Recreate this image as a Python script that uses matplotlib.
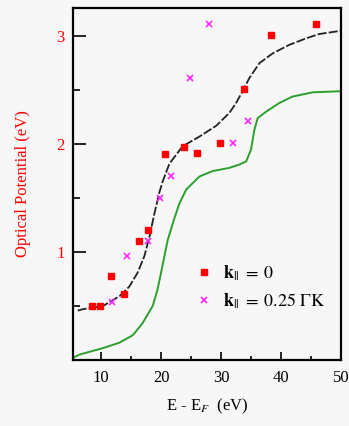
import matplotlib
matplotlib.use("Agg")
import matplotlib.pyplot as plt
from matplotlib.ticker import MultipleLocator

plt.rcParams["font.family"] = "Liberation Serif"
plt.rcParams["mathtext.fontset"] = "stix"

# k|| = 0 data points (red)
k0_x = [8.4, 9.8, 11.7, 13.8, 16.3, 17.8, 20.7, 23.8, 26.0, 29.8, 33.8, 38.4, 45.8]
k0_y = [0.50, 0.50, 0.78, 0.61, 1.10, 1.20, 1.91, 1.97, 1.92, 2.01, 2.51, 3.01, 3.11]

# k|| = 0.25 GK data points (magenta)
k25_x = [11.8, 14.3, 17.9, 19.9, 21.7, 24.9, 28.0, 32.05, 34.5]
k25_y = [0.54, 0.96, 1.10, 1.50, 1.70, 2.61, 3.11, 2.01, 2.21]

# black dashed calculation
calc_x = [6.1, 6.9, 10.3, 13.05, 14.7, 16.1, 17.2, 18.05, 18.9, 19.7, 20.3, 21.4, 23.6,
          26.4, 29.2, 31.4, 32.5, 33.6, 34.7, 36.4, 38.6, 41.4, 44.2, 46.4, 50.0]
calc_y = [0.457, 0.47, 0.50, 0.59, 0.68, 0.81, 0.96, 1.14, 1.36, 1.55, 1.66, 1.82, 1.98,
          2.07, 2.17, 2.29, 2.38, 2.49, 2.61, 2.75, 2.84, 2.92, 2.98, 3.02, 3.05]

# green curve
green_x = [5.3, 6.4, 10.3, 13.05, 15.3, 16.9, 18.6, 19.4, 20.0, 20.55, 21.1, 22.2, 23.05,
           24.2, 26.4, 28.6, 31.4, 33.05, 34.2, 35.0, 35.55, 36.1, 37.5, 39.7, 41.9,
           45.3, 50.0]
green_y = [0.02, 0.05, 0.11, 0.16, 0.23, 0.34, 0.50, 0.65, 0.81, 0.96, 1.11, 1.31, 1.45,
           1.58, 1.70, 1.75, 1.78, 1.81, 1.84, 1.95, 2.13, 2.24, 2.30, 2.38, 2.44,
           2.48, 2.49]

bg = "#f7f7f7"
fig = plt.figure(figsize=(3.49, 4.26), dpi=100, facecolor=bg)
ax = fig.add_axes([0.209, 0.155, 0.768, 0.826], facecolor=bg)

ax.plot(green_x, green_y, color="#2ca02c", lw=1.4)
ax.plot(calc_x, calc_y, color="#222222", lw=1.3, linestyle=(0, (5, 1.2)))
ax.plot(k0_x, k0_y, linestyle="none", marker="s", ms=5, color="red",
        label=r"$\mathbf{k}_{||}\;=\;0$")
ax.plot(k25_x, k25_y, linestyle="none", marker="x", ms=5, mew=1.2, color="#ff22ff",
        label=r"$\mathbf{k}_{||}\;=\;0.25\ \Gamma\mathrm{K}$")

ax.set_xlim(5.3, 50)
ax.set_ylim(0, 3.26)
ax.xaxis.set_major_locator(MultipleLocator(10))
ax.xaxis.set_minor_locator(MultipleLocator(5))
ax.yaxis.set_minor_locator(MultipleLocator(0.5))
ax.set_yticks([1, 2, 3])

ax.tick_params(axis="x", which="major", direction="in", length=6, width=1.2,
               labelsize=12, pad=7, top=False)
ax.tick_params(axis="x", which="minor", direction="in", length=3, width=1.2, top=False)
ax.tick_params(axis="y", which="major", direction="in", length=9, width=1.2,
               labelsize=12, pad=6, labelcolor="red", right=False)
ax.tick_params(axis="y", which="minor", direction="in", length=5, width=1.2, right=False)
for s in ax.spines.values():
    s.set_linewidth(1.6)

ax.set_ylabel("Optical Potential (eV)", color="red", fontsize=12, labelpad=18)
ax.set_xlabel(r"E - E$_F$  (eV)", fontsize=12, labelpad=8)

ax.legend(loc="lower left", bbox_to_anchor=(0.43, 0.12), frameon=False,
          fontsize=13, handlelength=1.0, handletextpad=0.5, labelspacing=0.45,
          borderaxespad=0)

fig.savefig("out.png", dpi=100, facecolor=bg)
